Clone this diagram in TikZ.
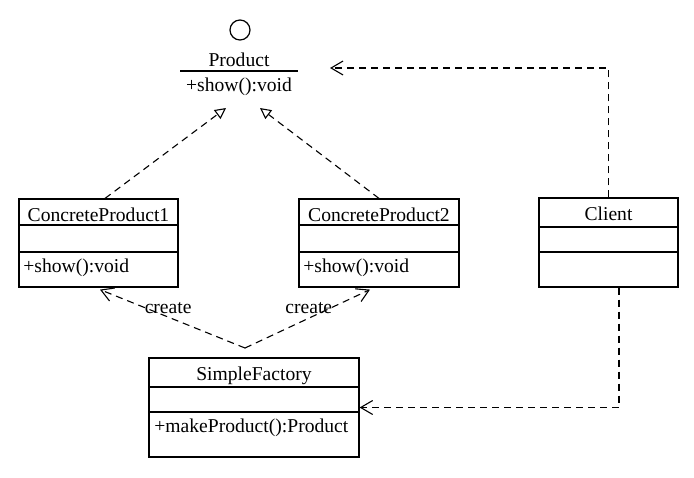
\documentclass[tikz,border=0pt]{standalone}
\usepackage{fontspec}
\setmainfont{Liberation Serif}
\usetikzlibrary{arrows.meta,calc}

\tikzset{
  classbox/.style={draw, line width=0.6pt, inner sep=0pt},
  txt/.style={inner sep=0pt, anchor=base},
  meth/.style={inner sep=0pt, anchor=base west},
  dep/.style={dash pattern=on 3.5pt off 2.5pt, line width=0.55pt,
              -{Straight Barb[length=6pt,width=7pt]}},
  real/.style={dash pattern=on 3.5pt off 2.5pt, line width=0.55pt,
               -{Triangle[open,length=5.5pt,width=5.5pt]}},
}

\begin{document}
\begin{tikzpicture}[x=0.5pt, y=-0.5pt, font=\fontsize{9.8}{12}\selectfont]
  \useasboundingbox (0,0) rectangle (694,477);

  % interface Product
  \node[draw, circle, line width=0.6pt, minimum size=10pt, inner sep=0pt] (iface) at (240,30) {};
  \node[txt] (prod) at (239,66) {Product};
  \draw[line width=0.6pt] (180,71) -- (298,71);
  \node[txt] (prodm) at (239,91) {+show():void};
  \coordinate (prodin) at (330,68);

  % ConcreteProduct1
  \node[classbox, minimum width=79.5pt, minimum height=44pt] (cp1) at (98.5,243) {};
  \node[txt] at (98.5,221.5) {ConcreteProduct1};
  \draw[line width=0.6pt] (cp1.west |- 0,225) -- (cp1.east |- 0,225);
  \draw[line width=0.6pt] (cp1.west |- 0,252) -- (cp1.east |- 0,252);
  \node[meth] at (23,272) {+show():void};

  % ConcreteProduct2
  \node[classbox, minimum width=80pt, minimum height=44pt] (cp2) at (379,243) {};
  \node[txt] at (379,221.5) {ConcreteProduct2};
  \draw[line width=0.6pt] (cp2.west |- 0,225) -- (cp2.east |- 0,225);
  \draw[line width=0.6pt] (cp2.west |- 0,252) -- (cp2.east |- 0,252);
  \node[meth] at (303,272) {+show():void};

  % Client
  \node[classbox, minimum width=69.5pt, minimum height=44.5pt] (client) at (608.5,242.5) {};
  \node[txt] at (608.5,220.5) {Client};
  \draw[line width=0.6pt] (client.west |- 0,227) -- (client.east |- 0,227);
  \draw[line width=0.6pt] (client.west |- 0,252) -- (client.east |- 0,252);

  % SimpleFactory
  \node[classbox, minimum width=105pt, minimum height=49.5pt] (sf) at (254,407.5) {};
  \node[txt] at (254,380.5) {SimpleFactory};
  \draw[line width=0.6pt] (sf.west |- 0,387) -- (sf.east |- 0,387);
  \draw[line width=0.6pt] (sf.west |- 0,412) -- (sf.east |- 0,412);
  \node[meth] at (154,432) {+makeProduct():Product};

  % realization
  \coordinate (tip1) at (226,108);
  \coordinate (tip2) at (260,108);
  \draw[real] ($(cp1.north)+(6.5,0)$) -- (tip1);
  \draw[real] (cp2.north) -- (tip2);

  % dependencies
  \draw[dep] (client.north) |- (prodin);
  \draw[dep] ($(client.south)+(10.5,0)$) |- (sf.east);
  \coordinate (sftop) at (245,348);
  \draw[dep] (sftop) -- ($(cp1.south)+(1.5,2)$)
    node[txt, pos=0.53, yshift=1.8pt] {create};
  \draw[dep] (sftop) -- ($(cp2.south)+(-9,2)$)
    node[txt, pos=0.51, yshift=2.6pt] {create};
\end{tikzpicture}
\end{document}
